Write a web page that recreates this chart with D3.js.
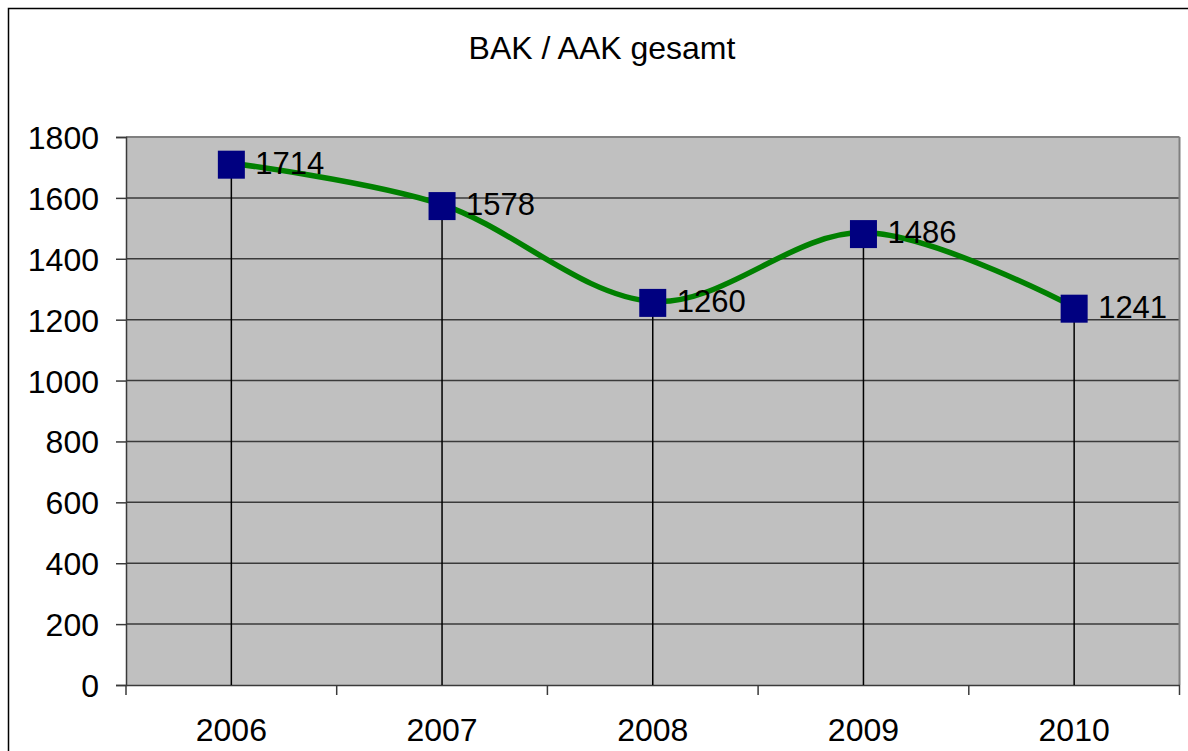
<!DOCTYPE html>
<html><head><meta charset="utf-8">
<script src="https://cdn.jsdelivr.net/npm/d3@7"></script>
<style>body{margin:0;background:#fff}svg{display:block;font-family:"Liberation Sans",Arial,sans-serif}</style>
</head><body>
<svg id="c" width="1188" height="751"></svg>
<script>
const title = "BAK / AAK gesamt";
const years = ["2006","2007","2008","2009","2010"];
const values = [1714,1578,1260,1486,1241];
const yTicks = [0,200,400,600,800,1000,1200,1400,1600,1800];

const svg = d3.select("#c");
const L = 126, R = 1179.5, T = 137, B = 685;

// outer border
svg.append("rect").attr("x",8.5).attr("y",8.5).attr("width",1200).attr("height",800)
  .attr("fill","#fff").attr("stroke","#000").attr("stroke-width",1.5);

svg.append("text").attr("x",602).attr("y",59).attr("text-anchor","middle")
  .attr("font-size",32).attr("fill","#000").text(title);

const x = d3.scaleBand().domain(years).range([L,R]).padding(0);
const y = d3.scaleLinear().domain([0,1800]).range([B,T]);

svg.append("rect").attr("x",L).attr("y",T).attr("width",R-L).attr("height",B-T).attr("fill","#c0c0c0");

// gridlines
svg.append("g").selectAll("line").data(yTicks.filter(d=>d>0)).join("line")
  .attr("x1",L).attr("x2",R).attr("y1",d=>y(d)).attr("y2",d=>y(d))
  .attr("stroke",d=>d===1800?"#808080":"#3a3a3a").attr("stroke-width",d=>d===1800?2:1.5);
// right border
svg.append("line").attr("x1",R).attr("x2",R).attr("y1",T).attr("y2",B).attr("stroke","#808080").attr("stroke-width",2);

// y axis
const ya = svg.append("g").attr("transform",`translate(${L},0)`)
  .call(d3.axisLeft(y).tickValues(yTicks).tickSize(10).tickPadding(17).tickFormat(d3.format("d")));
ya.select(".domain").attr("stroke","#3a3a3a").attr("stroke-width",1.5);
ya.selectAll(".tick line").attr("stroke","#3a3a3a").attr("stroke-width",1.5);
ya.selectAll("text").attr("font-size",32).attr("fill","#000").attr("font-family","Liberation Sans, Arial, sans-serif").attr("dy","0.36em");

// x axis
const xa = svg.append("g").attr("transform",`translate(0,${B})`)
  .call(d3.axisBottom(x).tickSize(0).tickPadding(33));
xa.select(".domain").attr("stroke","#3a3a3a").attr("stroke-width",1.5);
xa.selectAll("text").attr("font-size",32).attr("fill","#000").attr("font-family","Liberation Sans, Arial, sans-serif");
// category boundary ticks
const bounds = years.map(d=>x(d)).concat([R]);
svg.append("g").selectAll("line").data(bounds).join("line")
  .attr("x1",d=>d).attr("x2",d=>d).attr("y1",B).attr("y2",B+10)
  .attr("stroke","#3a3a3a").attr("stroke-width",1.5);

const cx = d => x(d) + x.bandwidth()/2;
const pts = years.map((d,i)=>({yr:d,v:values[i]}));

// drop lines
svg.append("g").selectAll("line").data(pts).join("line")
  .attr("x1",d=>cx(d.yr)).attr("x2",d=>cx(d.yr)).attr("y1",d=>y(d.v)).attr("y2",B)
  .attr("stroke","#000").attr("stroke-width",1.5);

// smooth line
const line = d3.line().x(d=>cx(d.yr)).y(d=>y(d.v)).curve(d3.curveCardinal.tension(0));
svg.append("path").datum(pts).attr("d",line).attr("fill","none")
  .attr("stroke","#008000").attr("stroke-width",5.5);

// markers
svg.append("g").selectAll("rect").data(pts).join("rect")
  .attr("x",d=>cx(d.yr)-13.5).attr("y",d=>y(d.v)-12.5).attr("width",27).attr("height",28)
  .attr("fill","#000080");

// labels
svg.append("g").selectAll("text").data(pts).join("text")
  .attr("x",d=>cx(d.yr)+24).attr("y",d=>y(d.v)+10.5)
  .attr("font-size",31).attr("fill","#000").text(d=>d.v);
</script>
</body></html>
